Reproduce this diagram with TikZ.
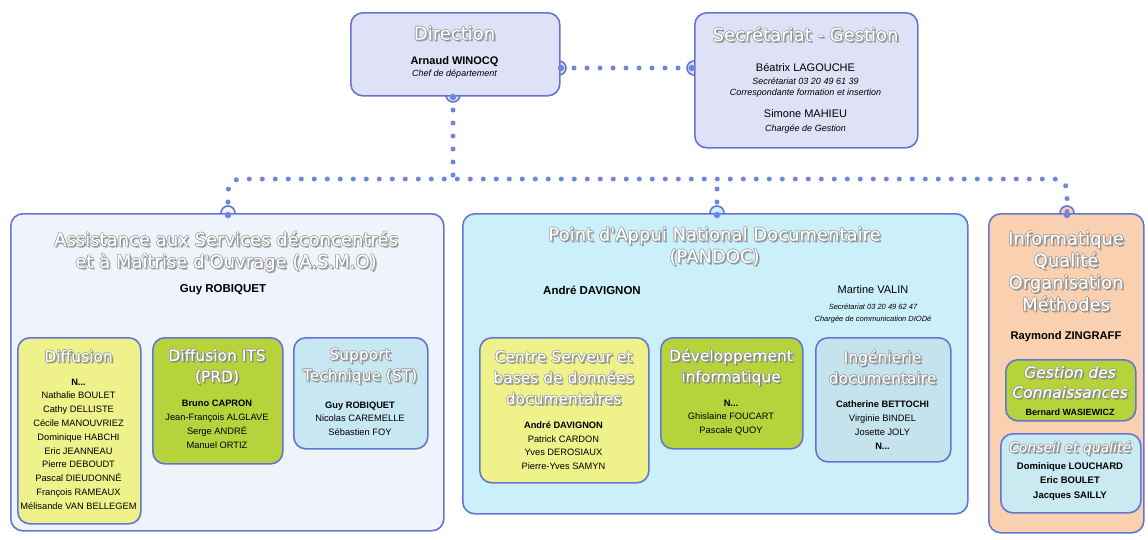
\documentclass[tikz,border=0pt]{standalone}
\usepackage{fontspec}
\setmainfont{Liberation Sans}
\newfontfamily\ttlfont[FakeBold=0.5]{DejaVu Sans}
\definecolor{bord}{RGB}{100,118,210}
\definecolor{conncol}{RGB}{112,134,220}
\definecolor{dirfill}{RGB}{223,225,247}
\definecolor{asmofill}{RGB}{239,243,251}
\definecolor{pandocfill}{RGB}{204,240,250}
\definecolor{infofill}{RGB}{249,208,176}
\definecolor{yel}{RGB}{239,241,138}
\definecolor{grn}{RGB}{182,211,60}
\definecolor{lblue}{RGB}{199,231,243}
\definecolor{ingfill}{RGB}{197,227,236}
\definecolor{conseilfill}{RGB}{201,234,241}
\tikzset{
  boxst/.style={draw=bord, line width=1.6pt, rounded corners=12pt, inner sep=0pt, anchor=north west},
  bumpst/.style={circle, draw=bord, line width=1.6pt, minimum size=14pt, inner sep=0pt},
  dotst/.style={circle, fill=conncol, minimum size=6.5pt, inner sep=0pt},
  conn/.style={draw=conncol, line width=5pt, line cap=round, dash pattern=on 0pt off 13pt},
  ttlw/.style={text=white, align=center, inner sep=0pt, font=\ttlfont\fontsize{18}{22}\selectfont},
  ttlh/.style={text=black!45, align=center, inner sep=0pt, font=\ttlfont\fontsize{18}{22}\selectfont},
  ttls/.style={text=black!55, opacity=0.6, align=center, inner sep=0pt, font=\ttlfont\fontsize{18}{22}\selectfont},
  subt/.style={font=\ttlfont\fontsize{15.5}{21}\selectfont},
  hdr/.style={align=center, inner sep=0pt, font=\bfseries\fontsize{11.5}{13}\selectfont},
  hreg/.style={align=center, inner sep=0pt, font=\fontsize{11}{13}\selectfont},
  hit/.style={align=center, inner sep=0pt, font=\itshape\fontsize{9}{11}\selectfont},
  nm/.style={align=center, inner sep=0pt, font=\fontsize{9.3}{13.8}\selectfont},
}
\newcommand\ttl[4][]{%
  \node[ttls,#1,xshift=1.6pt,yshift=-1.6pt] (#2s) at (#3) {#4};
  \node[ttlh,#1,xshift=0.6pt] (#2a) at (#3) {#4};
  \node[ttlh,#1,xshift=-0.6pt] (#2b) at (#3) {#4};
  \node[ttlh,#1,yshift=0.6pt] (#2c) at (#3) {#4};
  \node[ttlh,#1,yshift=-0.6pt] (#2d) at (#3) {#4};
  \node[ttlw,#1] (#2) at (#3) {#4};}
\newcommand\mkbox[6]{\node[boxst, fill=#6, minimum width=#4pt, minimum height=#5pt] (#1) at (#2,#3) {};}
\begin{document}
\begin{tikzpicture}[x=1pt,y=-1pt]
\fill[white] (0,0) rectangle (1148,539);
\useasboundingbox (0,0) rectangle (1148,539);
% bumps (drawn under the boxes)
\node[bumpst, fill=dirfill] (bD) at (453,95) {};
\node[bumpst, fill=dirfill] (bR) at (559,68) {};
\node[bumpst, fill=dirfill] (bS) at (694,68) {};
\node[bumpst, fill=asmofill] (bA) at (228,213) {};
\node[bumpst, fill=pandocfill] (bP) at (717,213) {};
\node[bumpst, fill=infofill] (bI) at (1067,213) {};
% main boxes
\mkbox{dir}{350}{12}{209}{83}{dirfill}
\mkbox{sec}{694}{12}{223}{135}{dirfill}
\mkbox{asmo}{10}{213}{433}{317}{asmofill}
\mkbox{pandoc}{462}{213}{505}{300}{pandocfill}
\mkbox{info}{988}{213}{155}{319}{infofill}
% sub boxes
\mkbox{diff}{17}{337}{123}{186}{yel}
\mkbox{its}{152}{337}{130}{126}{grn}
\mkbox{st}{293}{337}{134}{111}{lblue}
\mkbox{csrv}{479}{337}{169}{145}{yel}
\mkbox{dev}{660}{337}{142}{111}{grn}
\mkbox{ing}{815}{337}{135}{124}{ingfill}
\mkbox{gest}{1005}{359}{130}{61}{grn}
\mkbox{cons}{1000}{433}{140}{79}{conseilfill}
% connector dots
\node[dotst] (dD) at (453,97) {};
\node[dotst] (dR) at (561,68) {};
\node[dotst] (dS) at (692,68) {};
\node[dotst] (dA) at (228,215) {};
\node[dotst] (dP) at (717,215) {};
\node[dotst] (dI) at (1067,215) {};
\coordinate (j) at (453,179);
% connectors
\draw[conn] (dR.center) -- (dS.center);
\draw[conn] (dD.center) -- (j);
\draw[conn, rounded corners=12pt] (dA.center) -- (dA.center |- j) -- (dI.center |- j) -- (dI.center);
\draw[conn] (dP.center) -- (dP.center |- j);
% titles
\ttl{tdir}{454.5,33}{Direction}
\ttl{tsec}{805.5,34}{Secrétariat - Gestion}
\ttl{tasmo}{226,251.5}{Assistance aux Services déconcentrés\\et à Maîtrise d'Ouvrage (A.S.M.O)}
\ttl{tpan}{714.5,246}{Point d'Appui National Documentaire\\(PANDOC)}
\ttl{tinfo}{1066,271}{Informatique\\Qualité\\Organisation\\Méthodes}
\ttl[subt]{tdiff}{78.5,356}{Diffusion}
\ttl[subt]{tits}{217,366.5}{Diffusion ITS\\(PRD)}
\ttl[subt]{tst}{360,366}{Support\\Technique (ST)}
\ttl[subt]{tcsrv}{563.5,377.5}{Centre Serveur et\\bases de données\\documentaires}
\ttl[subt]{tdev}{731,367}{Développement\\informatique}
\ttl[subt]{ting}{882.5,367}{Ingénierie\\documentaire}
\ttl[subt, font=\ttlfont\itshape\fontsize{15.5}{20}\selectfont]{tgest}{1070,382}{Gestion des\\Connaissances}
\ttl[subt, font=\ttlfont\itshape\fontsize{14}{20}\selectfont]{tcons}{1070,448}{Conseil et qualité}
% header texts
\node[hdr, font=\bfseries\fontsize{11}{13}\selectfont] (p1) at (454.5,62) {Arnaud WINOCQ};
\node[hit] (p1f) at (454.5,74) {Chef de département};
\node[hreg] (p2) at (805.5,67) {Béatrix LAGOUCHE};
\node[hit] (p2f) at (805.5,87.5) {Secrétariat 03 20 49 61 39\\Correspondante formation et insertion};
\node[hreg] (p3) at (805.5,114) {Simone MAHIEU};
\node[hit] (p3f) at (805.5,129) {Chargée de Gestion};
\node[hdr] (p4) at (223,290) {Guy ROBIQUET};
\node[hdr] (p5) at (592,290) {André DAVIGNON};
\node[hreg] (p6) at (873,290) {Martine VALIN};
\node[hit, font=\itshape\fontsize{7.5}{12}\selectfont] (p6f) at (873,314) {Secrétariat 03 20 49 62 47\\Chargée de communication DIODé};
\node[hdr, font=\bfseries\fontsize{11.2}{13}\selectfont] (p7) at (1066,337) {Raymond ZINGRAFF};
% member lists
\node[nm] (ndiff) at (78.5,444) {\textbf{N...}\\Nathalie BOULET\\Cathy DELLISTE\\Cécile MANOUVRIEZ\\Dominique HABCHI\\Eric JEANNEAU\\Pierre DEBOUDT\\Pascal DIEUDONNÉ\\François RAMEAUX\\Mélisande VAN BELLEGEM};
\node[nm, font=\fontsize{9.3}{14}\selectfont] (nits) at (217,424) {\textbf{Bruno CAPRON}\\Jean-François ALGLAVE\\Serge ANDRÉ\\Manuel ORTIZ};
\node[nm, font=\fontsize{9.3}{13.5}\selectfont] (nst) at (360,418.5) {\textbf{Guy ROBIQUET}\\Nicolas CAREMELLE\\Sébastien FOY};
\node[nm, font=\fontsize{9.3}{13.7}\selectfont] (ncsrv) at (563.5,445.5) {\textbf{André DAVIGNON}\\Patrick CARDON\\Yves DEROSIAUX\\Pierre-Yves SAMYN};
\node[nm, font=\fontsize{9.3}{13.5}\selectfont] (ndev) at (731,417.5) {\textbf{N...}\\Ghislaine FOUCART\\Pascale QUOY};
\node[nm, font=\fontsize{9.3}{14}\selectfont] (ning) at (882.5,425) {\textbf{Catherine BETTOCHI}\\Virginie BINDEL\\Josette JOLY\\\textbf{N...}};
\node[nm, font=\bfseries\fontsize{9}{13}\selectfont] (ngest) at (1070,412) {Bernard WASIEWICZ};
\node[nm, font=\bfseries\fontsize{9.5}{14.5}\selectfont] (ncons) at (1070,481.5) {Dominique LOUCHARD\\Eric BOULET\\Jacques SAILLY};
\end{tikzpicture}
\end{document}
